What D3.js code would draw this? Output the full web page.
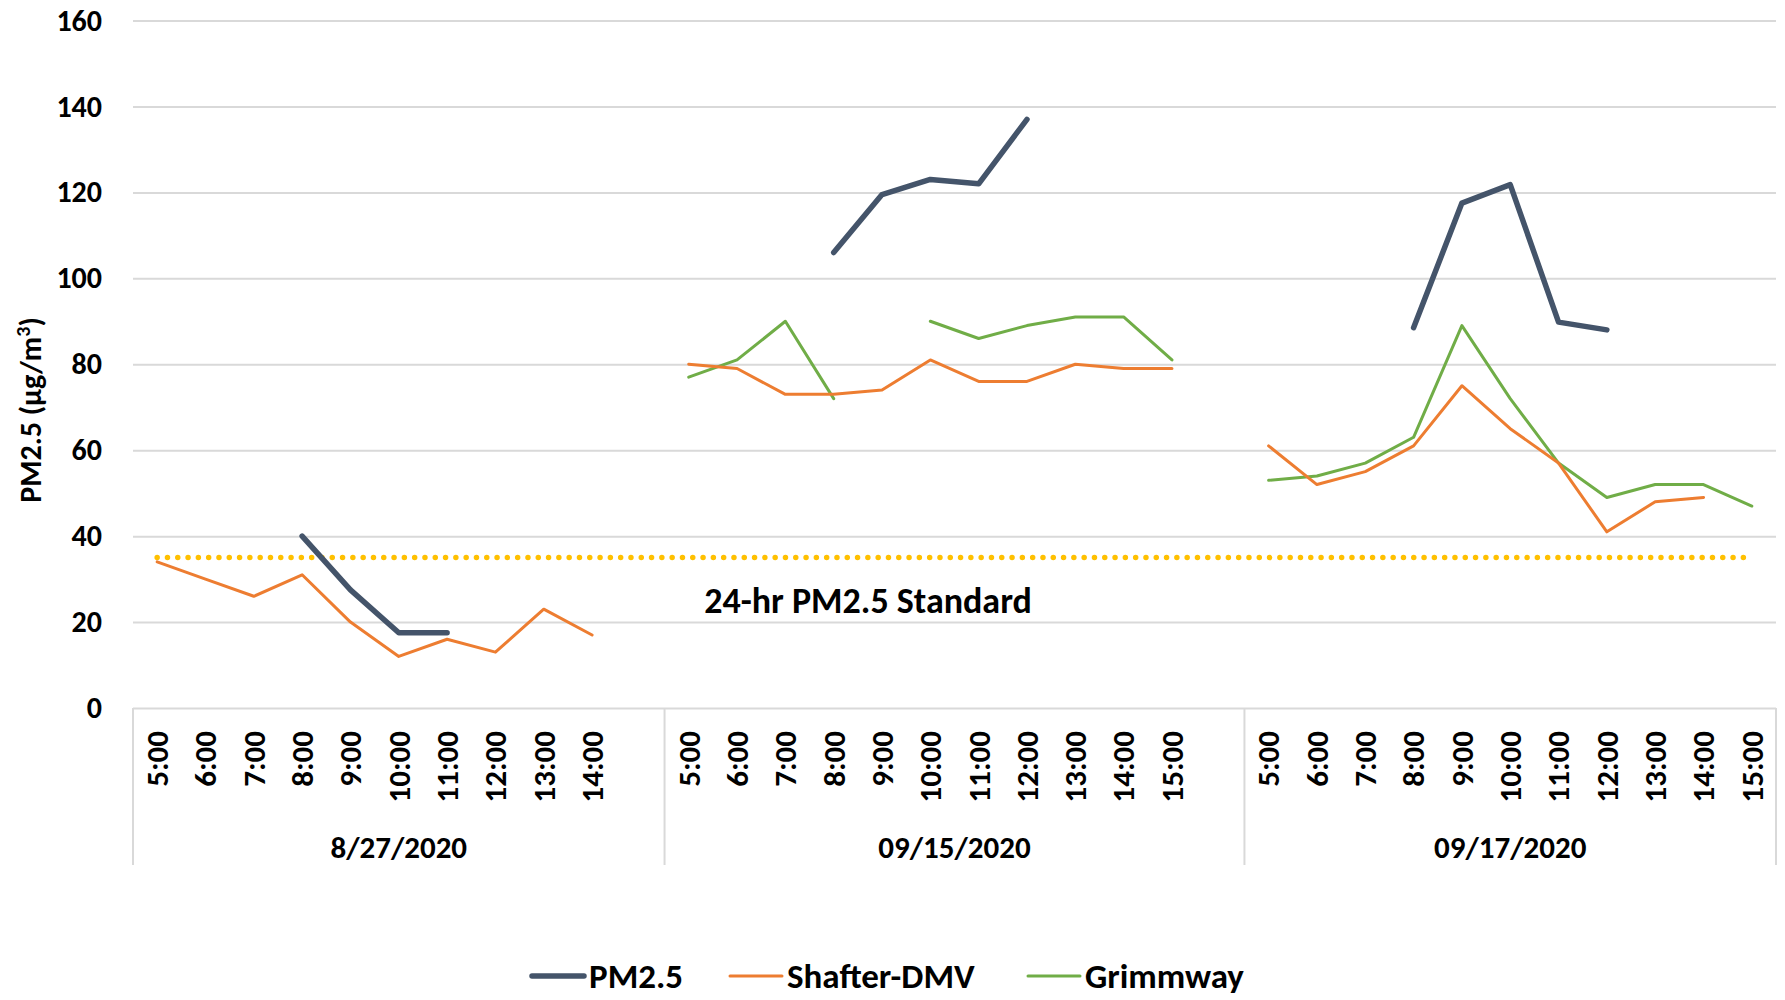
<html>
<head>
    <title>PM2.5 comparison</title>
    <script src="https://d3js.org/d3.v7.min.js" charSet="utf-8"></script>
    <style>
        body { margin: 0; background: #fff; }
        text { font-family: Carlito, Lato, sans-serif; font-weight: bold; fill: #000; }
        .grid line { stroke: #d9d9d9; stroke-width: 2; }
        .grid path { display: none; }
    </style>
</head>
<body>
<div id="vis_container"></div>
<script>
    // categories: three sampling days, hourly slots (blank slots kept like the original chart)
    let dates = ["8/27/2020", "09/15/2020", "09/17/2020"];
    let day1Hours = ["5:00", "6:00", "7:00", "8:00", "9:00", "10:00", "11:00", "12:00", "13:00", "14:00", ""];
    let day2Hours = ["5:00", "6:00", "7:00", "8:00", "9:00", "10:00", "11:00", "12:00", "13:00", "14:00", "15:00", ""];
    let day3Hours = ["5:00", "6:00", "7:00", "8:00", "9:00", "10:00", "11:00", "12:00", "13:00", "14:00", "15:00"];

    // series values, one per slot (null = no reading)
    let pm25Day1 = [null, null, null, 40, 27.5, 17.5, 17.5, null, null, null, null];
    let pm25Day2 = [null, null, null, 106, 119.5, 123, 122, 137, null, null, null, null];
    let pm25Day3 = [null, null, null, 88.5, 117.5, 121.8, 89.8, 88];

    let shafterDay1 = [34, 30, 26, 31, 20, 12, 16, 13, 23, 17, null];
    let shafterDay2 = [80, 79, 73, 73, 74, 81, 76, 76, 80, 79, 79, null];
    let shafterDay3 = [61, 52, 55, 61, 75, 65, 57, 41, 48, 49, null];

    let grimmwayDay1 = [null, null, null, null, null, null, null, null, null, null, null];
    let grimmwayDay2 = [77, 81, 90, 72, null, 90, 86, 89, 91, 91, 81, null];
    let grimmwayDay3 = [53, 54, 57, 63, 89, 72, 57, 49, 52, 52, 47];

    let yTicks = [0, 20, 40, 60, 80, 100, 120, 140, 160];
    let standardValue = 35;
    let standardLabel = "24-hr PM2.5 Standard";

    let seriesNames = ["PM2.5", "Shafter-DMV", "Grimmway"];
    let seriesColors = ["#44546a", "#ed7d31", "#70ad47"];
    let seriesWidths = [5.5, 3, 3];

    class LineChart {
        constructor(container_id) {
            this.width = 1785;
            this.height = 1000;
            this.left = 133;
            this.right = 1776;
            this.top = 20.5;
            this.bottom = 708;

            this.svg = d3.select("#" + container_id)
                .append("svg")
                .attr("width", this.width)
                .attr("height", this.height);

            // build the flat category list, one key per slot
            let groups = [day1Hours, day2Hours, day3Hours];
            this.slots = [];
            groups.forEach((hours, g) => {
                hours.forEach((h, i) => {
                    this.slots.push({key: g + "-" + i, group: g, hour: h});
                });
            });

            this.x = d3.scaleBand()
                .domain(this.slots.map(d => d.key))
                .range([this.left, this.right]);

            this.y = d3.scaleLinear()
                .domain([0, 160])
                .range([this.bottom, this.top]);
        }

        render() {
            let x = this.x, y = this.y, svg = this.svg;
            let bw = x.bandwidth();

            // gridlines + y labels
            svg.append("g")
                .attr("class", "grid")
                .attr("transform", "translate(" + this.left + ",0)")
                .call(d3.axisLeft(y).tickValues(yTicks).tickSize(-(this.right - this.left)).tickPadding(31))
                .selectAll("text")
                .style("font-size", "30px")
                .style("font-family", "Carlito, Lato, sans-serif")
                .style("font-weight", "bold")
                .attr("fill", "#000");

            // y axis title
            let title = svg.append("text")
                .attr("transform", "translate(41,410) rotate(-90)")
                .style("text-anchor", "middle")
                .style("font-size", "30px");
            title.append("tspan").text("PM2.5 (µg/m");
            title.append("tspan").attr("dy", -11).style("font-size", "20px").text("3");
            title.append("tspan").attr("dy", 11).text(")");

            // category separators
            let groupBounds = [];
            [day1Hours, day2Hours, day3Hours].reduce((start, hours) => {
                groupBounds.push([start, start + hours.length]);
                return start + hours.length;
            }, 0);

            let sepX = [this.left].concat(groupBounds.map(b => x(this.slots[b[1] - 1].key) + bw));
            svg.selectAll(".sep")
                .data(sepX)
                .enter()
                .append("line")
                .attr("class", "sep")
                .attr("x1", d => d).attr("x2", d => d)
                .attr("y1", this.bottom).attr("y2", 865)
                .attr("stroke", "#d9d9d9")
                .attr("stroke-width", 2);

            // hour labels
            svg.selectAll(".hour")
                .data(this.slots.filter(d => d.hour !== ""))
                .enter()
                .append("text")
                .attr("class", "hour")
                .attr("transform", d => "translate(" + (x(d.key) + bw / 2) + ",731) rotate(-90)")
                .attr("dy", "0.35em")
                .style("text-anchor", "end")
                .style("font-size", "31px")
                .text(d => d.hour);

            // date labels
            svg.selectAll(".date")
                .data(groupBounds)
                .enter()
                .append("text")
                .attr("class", "date")
                .attr("x", (d) => (x(this.slots[d[0]].key) + x(this.slots[d[1] - 1].key) + bw) / 2)
                .attr("y", 847)
                .attr("dy", "0.35em")
                .style("text-anchor", "middle")
                .style("font-size", "31px")
                .text((d, i) => dates[i]);

            // 24-hr standard (dotted)
            let firstKey = this.slots[0].key, lastKey = this.slots[this.slots.length - 1].key;
            svg.append("line")
                .attr("x1", x(firstKey) + bw / 2)
                .attr("x2", x(lastKey) + bw / 2)
                .attr("y1", y(standardValue))
                .attr("y2", y(standardValue))
                .attr("stroke", "#ffc000")
                .attr("stroke-width", 5.5)
                .attr("stroke-linecap", "round")
                .attr("stroke-dasharray", "0 10.3");

            svg.append("text")
                .attr("x", 868)
                .attr("y", 600)
                .attr("dy", "0.35em")
                .style("text-anchor", "middle")
                .style("font-size", "36px")
                .text(standardLabel);

            // series lines
            let allSeries = [
                pm25Day1.concat(pm25Day2, pm25Day3),
                shafterDay1.concat(shafterDay2, shafterDay3),
                grimmwayDay1.concat(grimmwayDay2, grimmwayDay3)
            ];
            let slots = this.slots;
            let line = d3.line()
                .defined(d => d.v !== null && d.v !== undefined)
                .x(d => x(d.key) + bw / 2)
                .y(d => y(d.v));

            // draw PM2.5 on top, like the original
            [2, 1, 0].forEach(s => {
                let pts = slots.map((d, i) => ({key: d.key, v: allSeries[s][i]}));
                svg.append("path")
                    .datum(pts)
                    .attr("fill", "none")
                    .attr("stroke", seriesColors[s])
                    .attr("stroke-width", seriesWidths[s])
                    .attr("stroke-linejoin", "round")
                    .attr("stroke-linecap", "round")
                    .attr("d", line);
            });

            // legend
            let legendX = [532, 730, 1028];
            let legend = svg.selectAll(".legend")
                .data(seriesNames)
                .enter()
                .append("g")
                .attr("class", "legend")
                .attr("transform", (d, i) => "translate(" + legendX[i] + ",976)");

            legend.append("line")
                .attr("x1", 0).attr("x2", 52)
                .attr("stroke", (d, i) => seriesColors[i])
                .attr("stroke-width", (d, i) => seriesWidths[i])
                .attr("stroke-linecap", "round");

            legend.append("text")
                .attr("x", 57)
                .attr("dy", "0.35em")
                .style("font-size", "35px")
                .text(d => d);
        }
    }

    let chart = new LineChart("vis_container");
    chart.render();
</script>
</body>
</html>
